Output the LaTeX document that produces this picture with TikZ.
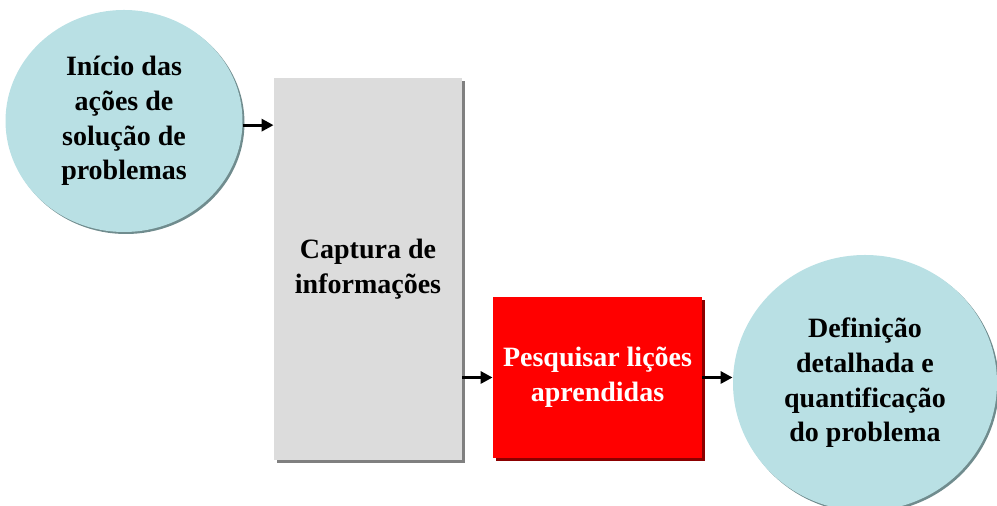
\documentclass[tikz,border=0pt]{standalone}
\usepackage{fontspec}
\setmainfont{Liberation Serif}
\usetikzlibrary{shapes.geometric}
\usetikzlibrary{shadows}
\usetikzlibrary{arrows.meta}

\definecolor{circfill}{RGB}{185,224,228}
\definecolor{circshade}{RGB}{112,140,142}
\definecolor{boxgray}{RGB}{220,220,220}
\definecolor{grayshade}{RGB}{128,128,128}
\definecolor{boxred}{RGB}{255,0,0}
\definecolor{redshade}{RGB}{140,0,0}

\tikzset{
  txt/.style={align=center, font=\fontsize{14}{17.3}\selectfont\bfseries, inner sep=0pt},
  stage/.style={txt, ellipse, fill=circfill,
    drop shadow={shadow xshift=1pt, shadow yshift=-1pt, fill=circshade, opacity=1}},
  panel/.style={txt, rectangle, fill=boxgray,
    drop shadow={shadow xshift=1.5pt, shadow yshift=-1.5pt, fill=grayshade, opacity=1}},
  hotbox/.style={txt, rectangle, fill=boxred, text=white,
    drop shadow={shadow xshift=1.5pt, shadow yshift=-1.5pt, fill=redshade, opacity=1}},
  flow/.style={-{Triangle[length=6pt, width=6pt]}, line width=1.5pt}
}

\begin{document}
\begin{tikzpicture}[x=0.5pt, y=-0.5pt]
  \useasboundingbox (0,0) rectangle (997,506);

  \node[stage, minimum width=118.5pt, minimum height=111pt] (start) at (124, 121)
    {Início das\\ações de\\solução de\\problemas};
  \node[panel, minimum width=94pt, minimum height=191pt] (capture) at (368, 269)
    {Captura de\\informações};
  \node[hotbox, minimum width=104.5pt, minimum height=80.5pt] (lessons) at (597.5, 377.5)
    {Pesquisar lições\\aprendidas};
  \node[stage, minimum width=132pt, minimum height=128pt] (define) at (865, 383)
    {Definição\\detalhada e\\quantificação\\do problema};

  \draw[flow] (start.-2) -- (start.-2 -| capture.west);
  \draw[flow] (lessons.west -| capture.east) -- (lessons.west);
  \draw[flow] (lessons.east) -- (lessons.east -| define.west);
\end{tikzpicture}
\end{document}
